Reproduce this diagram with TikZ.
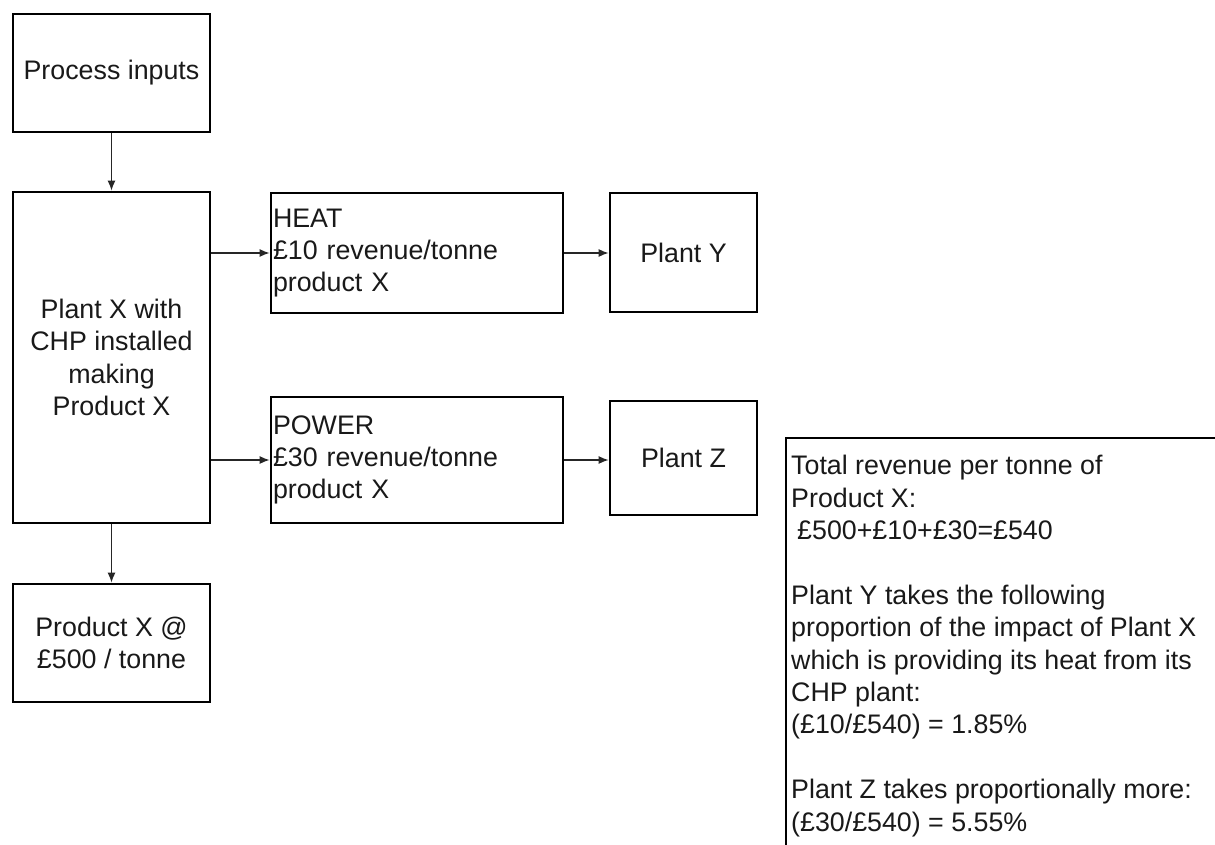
\documentclass[tikz,border=0pt]{standalone}
\usepackage{fontspec}
\setmainfont{Liberation Sans}
\usetikzlibrary{arrows.meta}

\tikzset{
  box/.style={draw=black, line width=2.8pt, rectangle, inner sep=2pt,
              align=center, text=black!90},
  leftbox/.style={box, align=left, text width=288pt, anchor=center},
  flow/.style={draw=black!85, line width=1.2pt,
               -{Latex[length=10pt,width=8pt]}},
  txt/.style={font=\fontsize{26.8}{32.4}\selectfont}
}

\begin{document}
\begin{tikzpicture}[x=1pt, y=-1pt, txt]
  \useasboundingbox (0,0) rectangle (1215,845);
  \clip (0,0) rectangle (1215,845);
  \fill[white] (0,0) rectangle (1215,845);

  % main chain on the left
  \node[box, minimum width=197pt, minimum height=118pt] (inp) at (111.5,73) {Process inputs};
  \node[box, minimum width=197pt, minimum height=331pt] (px) at (111.5,357.5)
       {Plant X with\\CHP installed\\making\\Product X};
  \node[box, minimum width=197pt, minimum height=118pt] (prod) at (111.5,643)
       {Product X @\\\pounds500 / tonne};

  % energy streams
  \node[leftbox, minimum height=120pt] (heat) at (417,253)
       {HEAT\\\pounds10 revenue/tonne\\product X};
  \node[leftbox, minimum height=126pt] (power) at (417,460)
       {POWER\\\pounds30 revenue/tonne\\product X};

  % receiving plants
  \node[box, minimum width=147pt, minimum height=119pt] (py) at (683.5,252.5) {Plant Y};
  \node[box, minimum width=147pt, minimum height=114pt] (pz) at (683.5,458) {Plant Z};

  % connectors
  \draw[flow] (inp.south) -- (px.north);
  \draw[flow] (px.south) -- (prod.north);
  \draw[flow] (px.east |- heat.west) -- (heat.west);
  \draw[flow] (px.east |- power.west) -- (power.west);
  \draw[flow] (heat.east) -- (py.west |- heat.east);
  \draw[flow] (power.east) -- (pz.west |- power.east);

  % summary panel running off the page edge
  \coordinate (sumcorner) at (786,438);
  \draw[line width=2.8pt] (786,860) -- (sumcorner) -- (1230,438);
  \node[anchor=north west, inner sep=0pt, align=left, text=black!90] (summary) at (791,455)
  {Total revenue per tonne of\\
   Product X:\\
   \hspace{6pt}\pounds500+\pounds10+\pounds30=\pounds540\\[32.4pt]
   Plant Y takes the following\\
   proportion of the impact of Plant X\\
   which is providing its heat from its\\
   CHP plant:\\
   (\pounds10/\pounds540) = 1.85\%\\[32.4pt]
   Plant Z takes proportionally more:\\
   (\pounds30/\pounds540) = 5.55\%};
\end{tikzpicture}
\end{document}
